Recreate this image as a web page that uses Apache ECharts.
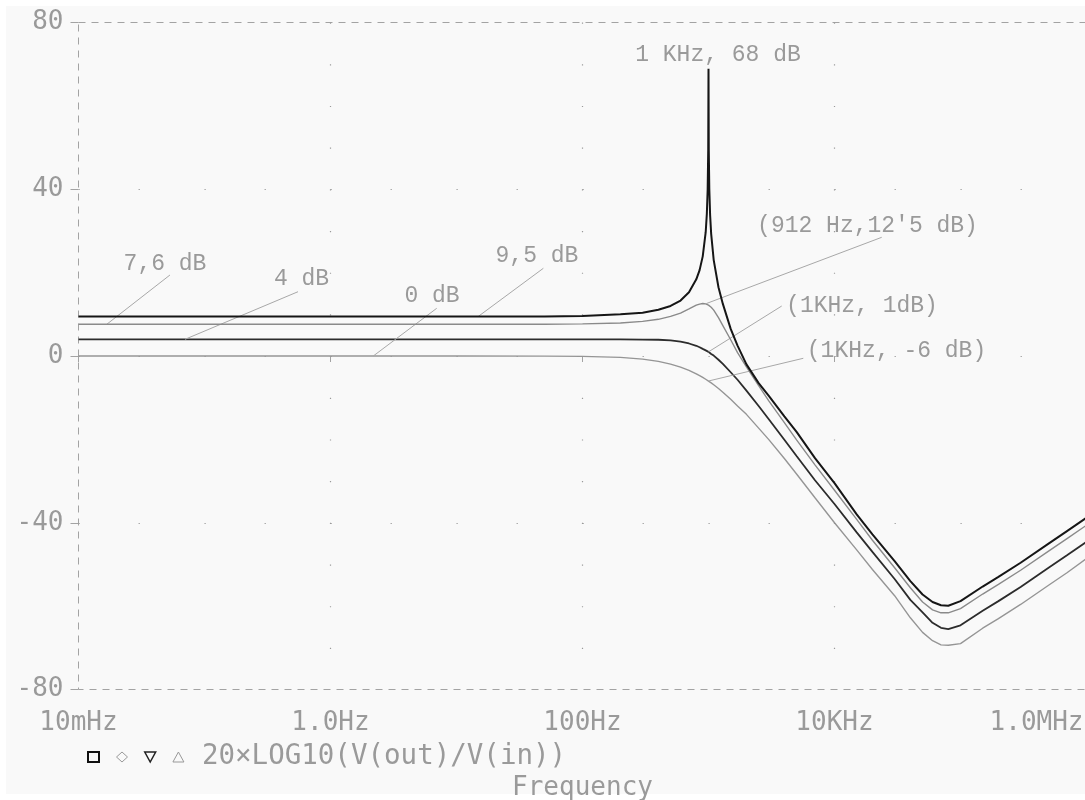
<!DOCTYPE html>
<html>
<head>
<meta charset="utf-8">
<script src="https://cdn.jsdelivr.net/npm/echarts@6/dist/echarts.min.js"></script>
<style>
html,body{margin:0;padding:0;background:#ffffff;}
#chart{width:1085px;height:800px;}
</style>
</head>
<body>
<div id="chart"></div>
<script>
// ---- data ----
const frequencies = [0.01, 1, 10, 50, 100, 200, 300, 400, 500, 600, 700, 800, 850, 900, 950, 970, 985, 995, 1000, 1005, 1015, 1030, 1050, 1100, 1200, 1300, 1500, 1700, 2000, 2500, 3000, 4000, 5000, 7000, 10000, 15000, 20000, 30000, 40000, 50000, 60000, 70000, 80000, 100000, 150000, 200000, 300000, 500000, 700000, 1000000];

const gain95 = [9.5, 9.5, 9.5, 9.5, 9.6, 10.0, 10.4, 11.1, 12.0, 13.3, 15.3, 18.4, 20.6, 23.9, 29.7, 34.1, 40.0, 49.5, 68.9, 49.5, 40.0, 33.8, 29.3, 23.0, 16.5, 12.5, 6.5, 2.5, -2.0, -6.5, -9.5, -14.5, -18.2, -24.5, -30.5, -38.0, -42.8, -49.2, -54.0, -57.2, -59.0, -59.8, -59.9, -58.8, -55.3, -53.0, -49.6, -45.0, -42.0, -38.8];

const gain76 = [7.6, 7.6, 7.6, 7.6, 7.7, 7.9, 8.3, 8.8, 9.5, 10.3, 11.3, 12.2, 12.45, 12.6, 12.5, 12.4, 12.3, 12.25, 12.2, 12.15, 12.05, 11.9, 11.7, 11.0, 9.2, 7.3, 3.9, 0.8, -2.6, -7.1, -10.7, -16.0, -20.1, -26.1, -32.2, -39.2, -44.2, -50.8, -55.6, -59.0, -60.9, -61.6, -61.6, -60.6, -57.1, -54.8, -51.4, -46.8, -43.8, -40.6];

const gain40 = [4.0, 4.0, 4.0, 4.0, 4.0, 4.0, 3.95, 3.9, 3.75, 3.45, 3.0, 2.45, 2.1, 1.7, 1.35, 1.2, 1.1, 1.0, 1.0, 0.95, 0.85, 0.65, 0.5, 0.1, -0.9, -1.9, -3.9, -5.7, -8.3, -12.0, -15.1, -20.1, -24.0, -29.8, -35.5, -42.3, -47.0, -53.5, -58.5, -61.5, -64.0, -65.2, -65.5, -64.6, -61.1, -58.8, -55.4, -50.8, -47.8, -44.6];

const gain00 = [0, 0, 0, -0.02, -0.09, -0.34, -0.75, -1.29, -1.94, -2.67, -3.46, -4.29, -4.72, -5.14, -5.58, -5.75, -5.89, -5.98, -6.02, -6.06, -6.15, -6.28, -6.45, -6.9, -7.79, -8.68, -10.4, -12.0, -14.0, -17.3, -20.0, -24.6, -28.3, -34.0, -40.0, -46.5, -51.2, -57.5, -62.8, -66.3, -68.3, -69.3, -69.4, -69.0, -65.3, -63.0, -59.6, -55.0, -52.0, -48.6];

const seriesNames = ['9,5 dB', '7,6 dB', '4 dB', '0 dB'];
const xTickValues = [0.01, 1, 100, 10000, 1000000];
const xTickLabels = ['10mHz', '1.0Hz', '100Hz', '10KHz', '1.0MHz'];
const yMin = -80, yMax = 80, yStep = 40;
const legendText = '20×LOG10(V(out)/V(in))';
const xAxisTitle = 'Frequency';

// annotation texts with their leader lines (data units: Hz, dB)
const annotations = [
  {text: '7,6 dB', at: [0.0486, 22.07], from: [0.0532, 19.43], to: [0.01675, 7.6]},
  {text: '4 dB', at: [0.5886, 18.59], from: [0.5522, 15.42], to: [0.07002, 4.0]},
  {text: '0 dB', at: [6.39, 14.39], from: [6.965, 11.44], to: [2.186, 0]},
  {text: '9,5 dB', at: [43.5, 23.99], from: [48.9, 21.04], to: [14.9, 9.5]},
  {text: '1 KHz, 68 dB', at: [1190, 72.2]},
  {text: "(912 Hz,12'5 dB)", at: [18280, 31.18], from: [23690, 28.47], to: [965, 12.6]},
  {text: '(1KHz, 1dB)', at: [16530, 11.99], from: [3811, 11.99], to: [1000, 1.0]},
  {text: '(1KHz, -6 dB)', at: [31050, 1.2], from: [5654, -0.55], to: [1000, -6.0]}
];

// ---- chart ----
const MONO = 'DejaVu Sans Mono';
const NOTE_FONT = 'Liberation Mono';
const gridColor = '#a3a3a3';
const textColor = '#9a9a9a';

function pairs(vals) { return frequencies.map((f, i) => [f, vals[i]]); }

function xLabel(v) {
  const i = xTickValues.findIndex(t => Math.abs(Math.log10(t) - Math.log10(v)) < 1e-6);
  if (i < 0) return '';
  return i === xTickValues.length - 1 ? '{last|' + xTickLabels[i] + '}' : xTickLabels[i];
}

const curveStyles = [
  {color: '#161616', width: 2},
  {color: '#8a8a8a', width: 1.4},
  {color: '#2c2c2c', width: 1.8},
  {color: '#959595', width: 1.4}
];
const gains = [gain95, gain76, gain40, gain00];

const series = gains.map((g, k) => ({
  name: seriesNames[k],
  type: 'line',
  data: pairs(g),
  showSymbol: false,
  symbol: 'none',
  silent: true,
  animation: false,
  lineStyle: curveStyles[k],
  itemStyle: {color: curveStyles[k].color},
  z: 3 + (3 - k)
}));

series.push({
  name: 'notes',
  type: 'line',
  data: [],
  silent: true,
  animation: false,
  z: 2,
  markLine: {
    silent: true,
    animation: false,
    symbol: ['none', 'none'],
    label: {show: false},
    lineStyle: {color: '#a8a8a8', width: 1, type: 'solid'},
    emphasis: {disabled: true},
    data: annotations.filter(a => a.from).map(a => [{coord: a.from}, {coord: a.to}])
  },
  markPoint: {
    silent: true,
    animation: false,
    symbol: 'rect',
    symbolSize: 1,
    itemStyle: {color: 'rgba(0,0,0,0)'},
    label: {
      show: true,
      position: 'inside',
      formatter: '{b}',
      color: textColor,
      fontFamily: NOTE_FONT,
      fontSize: 23
    },
    data: annotations.map(a => ({name: a.text, coord: a.at}))
  }
});

const chart = echarts.init(document.getElementById('chart'), null, {renderer: 'canvas'});
chart.setOption({
  animation: false,
  backgroundColor: '#ffffff',
  textStyle: {fontFamily: MONO},
  graphic: [{
    type: 'rect',
    z: -10,
    silent: true,
    shape: {x: 6, y: 6, width: 1079, height: 788},
    style: {fill: '#f9f9f9'}
  }],
  grid: {
    left: 78.5, top: 22.5, width: 1008, height: 667,
    containLabel: false,
    outerBoundsMode: 'none',
    show: true,
    backgroundColor: 'rgba(0,0,0,0)',
    borderColor: gridColor,
    borderWidth: 1,
    borderType: [7, 6]
  },
  legend: {
    left: 82, top: 738,
    itemWidth: 11, itemHeight: 10, itemGap: 16,
    selectedMode: false,
    data: [
      {name: seriesNames[0], icon: 'rect', itemStyle: {color: 'rgba(0,0,0,0)', borderColor: '#111', borderWidth: 2}},
      {name: seriesNames[1], icon: 'diamond', itemStyle: {color: 'rgba(0,0,0,0)', borderColor: '#999', borderWidth: 1}},
      {name: seriesNames[2], icon: 'path://M0,0 L12,0 L6,11 Z', itemStyle: {color: 'rgba(0,0,0,0)', borderColor: '#222', borderWidth: 1.5}},
      {name: seriesNames[3], icon: 'triangle', itemStyle: {color: 'rgba(0,0,0,0)', borderColor: '#999', borderWidth: 1}}
    ],
    formatter: name => (name === seriesNames[3] ? '{t|' + legendText + '}' : ''),
    textStyle: {
      fontFamily: MONO, fontSize: 27.5, color: textColor,
      rich: {t: {fontFamily: MONO, fontSize: 27.5, color: textColor, padding: [0, 0, 0, 13]}}
    }
  },
  xAxis: {
    type: 'log',
    logBase: 10,
    min: xTickValues[0],
    max: xTickValues[xTickValues.length - 1],
    axisLine: {show: false},
    axisTick: {show: true, inside: false, length: 6, customValues: xTickValues, lineStyle: {color: gridColor}},
    axisLabel: {
      customValues: xTickValues,
      formatter: xLabel,
      margin: 21,
      fontFamily: MONO, fontSize: 26, color: textColor,
      alignMaxLabel: 'right', showMinLabel: true, showMaxLabel: true,
      rich: {last: {fontFamily: MONO, fontSize: 26, color: textColor, padding: [0, 3, 0, 0]}}
    },
    splitLine: {
      show: true, showMinLine: false, showMaxLine: false,
      lineStyle: {color: '#9a9a9a', width: 1.2, type: [1.2, 40.49]}
    },
    name: xAxisTitle,
    nameLocation: 'middle',
    nameGap: 86,
    nameTextStyle: {fontFamily: MONO, fontSize: 26, color: textColor}
  },
  yAxis: {
    type: 'value',
    min: yMin, max: yMax, interval: yStep,
    axisLine: {show: false},
    axisTick: {show: true, inside: false, length: 8, lineStyle: {color: gridColor}},
    axisLabel: {margin: 15, fontFamily: MONO, fontSize: 26, color: textColor},
    splitLine: {
      show: true, showMinLine: false, showMaxLine: false,
      lineStyle: {color: '#9a9a9a', width: 1.2, type: [1.2, 58.9, 1.2, 64.7]}
    }
  },
  series: series
});
</script>
</body>
</html>
